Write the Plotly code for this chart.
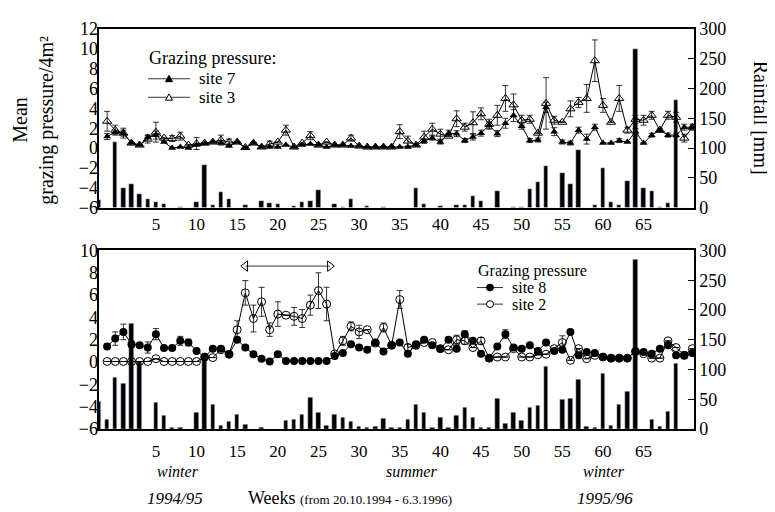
import plotly.graph_objects as go

# ---------------- data ----------------
# grazing weeks (73 points) and rainfall weeks (74 bars, one extra week at the start)
weeks = list(range(-1, 72))
rain_weeks = list(range(-2, 72))

site7 = [1.15, 1.6, 1.5, 0.5, 0.3, 1.1, 1.3, 0.6, 0.0, 0.1,
         0.0, 0.3, 0.45, 0.6, 0.5, 0.2, 0.6, 0.0, 0.5, 0.1,
         0.1, 0.1, 0.3, 0.1, 0.3, 0.4, 0.3, 0.1, 0.3, 0.3,
         0.2, 0.2, 0.1, 0.1, 0.1, 0.1, 0.1, 0.1, 0.3, 0.7,
         1.0, 0.6, 1.5, 1.45, 0.75, 1.1, 1.5, 2.3, 1.45, 2.5,
         3.27, 2.2, 0.75, 0.8, 4.1, 1.65, 0.6, 0.5, 1.8, 0.9,
         2.1, 0.5, 0.5, 0.75, 0.6, 1.65, 0.5, 1.3, 1.8, 1.3,
         1.3, 2.1, 2.1]
site3 = [2.7, 1.8, 1.5, 0.5, 0.3, 0.9, 1.6, 1.0, 0.95, 1.2,
         0.3, 0.45, 0.5, 0.6, 0.8, 0.6, 0.6, 0.05, 0.5, 0.1,
         0.4, 0.6, 1.8, 0.1, 0.5, 1.25, 0.3, 0.6, 0.3, 0.3,
         1.0, 0.2, 0.1, 0.1, 0.1, 0.1, 1.65, 0.7, 0.3, 1.1,
         1.9, 1.4, 1.2, 2.95, 2.1, 2.55, 3.45, 2.4, 3.3, 5.0,
         4.35, 2.8, 2.9, 1.5, 4.5, 2.8, 2.6, 3.95, 4.6, 5.0,
         8.8, 4.3, 2.6, 5.0, 1.8, 2.9, 2.8, 3.3, 1.8, 3.3,
         3.1, 1.0, 2.1]
site7_err = [0.3, 0.2, 0.5, 0, 0, 0.2, 0.4, 0, 0, 0,
             0, 0, 0, 0, 0, 0, 0, 0, 0, 0,
             0, 0, 0, 0, 0, 0, 0, 0, 0, 0,
             0, 0, 0, 0, 0, 0, 0, 0, 0, 0.2,
             0.2, 0.2, 0.3, 0.3, 0.2, 0.3, 0.3, 0.3, 0.3, 0.5,
             0.6, 0.3, 0.2, 0.2, 0.5, 0.4, 0.2, 0.2, 0.3, 0.5,
             0.3, 0, 0, 0.2, 0, 0.3, 0, 0.2, 0.2, 0.2,
             0.2, 0.3, 0.3]
site3_err = [1.0, 0.5, 0.3, 0, 0, 0.4, 1.0, 0, 0.3, 0.4,
             0, 0.6, 0, 0, 0.5, 0.3, 0, 0, 0, 0,
             0.3, 0, 0.5, 0, 0, 0.4, 0, 0, 0, 0,
             0.3, 0, 0, 0, 0, 0, 0.7, 0.5, 0, 0.6,
             0.6, 0.5, 0, 0.8, 0.4, 1.1, 0.6, 0.5, 1.0, 1.3,
             1.1, 0.5, 0.4, 0, 2.6, 0.4, 0, 0.8, 0.5, 1.4,
             2.1, 0.7, 0, 1.3, 0.3, 0.4, 0.5, 0.4, 0, 0.4,
             0.5, 0.4, 0]
rain_top = [13, 0, 110, 32, 40, 22, 15, 10, 6, 0,
            1, 0, 9, 72, 4, 26, 14, 0, 5, 0,
            11, 7, 6, 0, 2, 10, 11, 29, 0, 6,
            1, 14, 0, 2, 0, 1, 0, 0, 0, 33,
            6, 0, 3, 0, 4, 5, 19, 11, 0, 27,
            0, 1, 1, 31, 43, 70, 0, 58, 40, 97,
            0, 4, 67, 10, 5, 45, 267, 33, 28, 1,
            7, 181, 0, 0]

site8 = [1.4, 2.1, 2.7, 1.6, 1.5, 1.3, 2.5, 1.25, 1.25, 1.9,
         1.75, 1.0, 0.45, 1.2, 1.2, 0.7, 2.0, 1.3, 0.7, 0.3,
         0.05, 0.7, 0.1, 0.1, 0.1, 0.1, 0.1, 0.1, 0.55, 0.8,
         1.6, 1.3, 1.1, 1.75, 0.95, 1.5, 1.75, 0.75, 1.6, 2.0,
         1.5, 1.2, 2.0, 1.2, 2.5, 1.9, 0.75, 0.35, 1.4, 2.5,
         1.3, 1.2, 1.5, 1.0, 1.75, 1.0, 1.1, 2.7, 0.6, 0.9,
         0.8, 0.45, 0.35, 0.35, 0.35, 0.95, 0.9, 0.75, 1.2, 1.5,
         0.6, 0.6, 0.8]
site2 = [0.05, 0.05, 0.05, 0.05, 0.05, 0.05, 0.3, 0.05, 0.05, 0.05,
         0.05, 0.05, 0.45, 0.4, 1.1, 0.7, 2.9, 6.2, 3.9, 5.4,
         2.9, 4.3, 4.2, 4.1, 3.9, 5.1, 6.4, 5.2, 0.73, 1.9,
         3.2, 2.7, 2.9, 1.7, 3.1, 1.5, 5.6, 1.3, 1.5, 1.75,
         1.75, 1.2, 1.1, 2.0, 1.9, 1.3, 1.9, 0.35, 0.45, 0.45,
         1.2, 0.45, 0.45, 0.65, 0.7, 1.2, 1.75, 0.15, 1.2, 0.3,
         0.6, 0.45, 0.35, 0.35, 0.35, 0.95, 0.75, 0.35, 0.35, 1.9,
         1.3, 0.6, 1.2]
site8_err = [0.2, 0.6, 0.7, 0.3, 0.2, 0.5, 0.5, 0.2, 0.2, 0.4,
             0.3, 0, 0, 0, 0, 0, 0.2, 0, 0, 0,
             0, 0, 0, 0, 0, 0, 0, 0, 0, 0,
             0.2, 0, 0, 0, 0, 0, 0, 0, 0, 0.2,
             0, 0, 0.2, 0, 0.3, 0, 0, 0, 0.2, 0.4,
             0, 0, 0, 0, 0, 0, 0, 0, 0, 0,
             0, 0, 0, 0, 0, 0, 0, 0, 0, 0.2,
             0, 0, 0]
site2_err = [0, 0, 0, 0, 0, 0, 0, 0, 0, 0,
             0, 0, 0, 0, 0, 0, 0.8, 1.1, 1.2, 1.3,
             0.6, 1.1, 0, 0.8, 0.8, 0.9, 1.6, 1.5, 0, 0.4,
             0.4, 0.6, 0, 0, 0.4, 0, 0.8, 0.3, 0.3, 0,
             0, 0, 0, 0.4, 0.3, 0, 0.3, 0, 0, 0,
             0, 0, 0, 0, 0, 0, 0.6, 0, 0, 0,
             0, 0, 0, 0, 0, 0, 0, 0, 0, 0,
             0, 0.3, 0]
rain_bottom = [47, 16, 87, 76, 177, 113, 0, 44, 23, 2,
               3, 0, 27, 124, 41, 6, 12, 24, 8, 0,
               3, 0, 0, 15, 16, 24, 53, 28, 6, 24,
               20, 13, 4, 3, 4, 17, 3, 3, 16, 41,
               27, 3, 20, 3, 22, 36, 20, 3, 3, 52,
               9, 27, 15, 37, 40, 105, 0, 50, 51, 83,
               5, 2, 94, 6, 42, 63, 285, 0, 16, 5,
               30, 110, 0, 0]

tick_weeks = [5, 10, 15, 20, 25, 30, 35, 40, 45, 50, 55, 60, 65]
arrow_span = [16, 26.4]
arrow_level = [8.6, 8.6]

FONT = "Liberation Serif, Times New Roman, serif"
BLACK = "black"

# plot-area geometry (screen pixels of the 775x512 page; page body adds 8px offset)
PX0, PX1, PY0, PY1 = 99, 694, 19, 429


def px(sx):
    return (sx - PX0) / (PX1 - PX0)


def py(sy):
    return (PY1 - sy) / (PY1 - PY0)


fig = go.Figure()


def err(arr):
    return dict(type="data", array=arr, visible=True, color=BLACK, thickness=0.8, width=3)


# ---- top panel ----
fig.add_trace(go.Bar(x=rain_weeks, y=rain_top, marker_color=BLACK, width=0.55,
                     xaxis="x", yaxis="y", showlegend=False))
fig.add_trace(go.Scatter(x=weeks, y=site7, mode="lines+markers", name="site 7",
                         line=dict(color=BLACK, width=1),
                         marker=dict(symbol="triangle-up", size=7, color=BLACK),
                         error_y=err(site7_err), xaxis="x", yaxis="y2", showlegend=False))
fig.add_trace(go.Scatter(x=weeks, y=site3, mode="lines+markers", name="site 3",
                         line=dict(color=BLACK, width=1),
                         marker=dict(symbol="triangle-up-open", size=8, color=BLACK,
                                     line=dict(width=1)),
                         error_y=err(site3_err), xaxis="x", yaxis="y2", showlegend=False))

# ---- bottom panel ----
fig.add_trace(go.Bar(x=rain_weeks, y=rain_bottom, marker_color=BLACK, width=0.55,
                     xaxis="x2", yaxis="y3", showlegend=False))
fig.add_trace(go.Scatter(x=weeks, y=site8, mode="lines+markers", name="site 8",
                         line=dict(color=BLACK, width=1),
                         marker=dict(symbol="circle", size=8, color=BLACK),
                         error_y=err(site8_err), xaxis="x2", yaxis="y4", showlegend=False))
fig.add_trace(go.Scatter(x=weeks, y=site2, mode="lines+markers", name="site 2",
                         line=dict(color=BLACK, width=1),
                         marker=dict(symbol="circle-open", size=8, color=BLACK,
                                     line=dict(width=1)),
                         error_y=err(site2_err), xaxis="x2", yaxis="y4", showlegend=False))
fig.add_trace(go.Scatter(x=arrow_span, y=arrow_level, mode="lines+markers",
                         line=dict(color=BLACK, width=0.8),
                         marker=dict(symbol=["triangle-left-open", "triangle-right-open"],
                                     size=9, color=BLACK, line=dict(width=1)),
                         xaxis="x2", yaxis="y4", showlegend=False, hoverinfo="skip"))

ytickfont = dict(family=FONT, size=18, color=BLACK)
xtickfont = dict(family=FONT, size=17, color=BLACK)
xcommon = dict(range=[-2, 71.2], tickmode="array", tickvals=tick_weeks,
               ticktext=[str(t) for t in tick_weeks], showline=True, mirror=True,
               linecolor=BLACK, linewidth=1.5, ticks="", showgrid=False, zeroline=False,
               tickfont=xtickfont)
rain_common = dict(range=[0, 300], dtick=50, side="right", showline=True, mirror=True,
                   linecolor=BLACK, linewidth=1.5, ticks="inside", ticklen=6,
                   tickcolor=BLACK, showgrid=False, zeroline=False, tickfont=ytickfont)
graze_common = dict(side="left", dtick=2, showgrid=False, zeroline=False, ticks="",
                    showline=False, tickfont=ytickfont)

# page body has an 8px margin: shrink figure so the plot area lands where it should
fig.update_layout(
    width=767, height=504,
    margin=dict(l=PX0 - 8, r=775 - PX1, t=PY0 - 8, b=512 - PY1),
    paper_bgcolor="white", plot_bgcolor="white",
    font=dict(family=FONT, color=BLACK),
    bargap=0,
    xaxis=dict(domain=[0, 1], anchor="y", **xcommon),
    xaxis2=dict(domain=[0, 1], anchor="y3", ticklabelstandoff=6, **xcommon),
    yaxis=dict(domain=[py(202), 1], anchor="x", **rain_common),
    yaxis2=dict(overlaying="y", anchor="x", range=[-6, 12], **graze_common),
    yaxis3=dict(domain=[0, py(246)], anchor="x2", **rain_common),
    yaxis4=dict(overlaying="y3", anchor="x2", range=[-6, 10], **graze_common),
    showlegend=False,
)

ann = []
shapes = []


def add(text, sx, sy, size=16, angle=0, italic=False, anchor="center"):
    t = f"<i>{text}</i>" if italic else text
    ann.append(dict(text=t, x=px(sx), y=py(sy), xref="paper", yref="paper", showarrow=False,
                    textangle=angle, font=dict(family=FONT, size=size, color=BLACK),
                    xanchor=anchor, yanchor="middle", borderpad=0))


def legend_item(x0, x1, sy, marker, filled, label, size):
    shapes.append(dict(type="line", xref="paper", yref="paper", x0=px(x0), x1=px(x1),
                       y0=py(sy), y1=py(sy), line=dict(color=BLACK, width=0.8)))
    cx = (x0 + x1) / 2
    fill = BLACK if filled else "white"
    if marker == "triangle":
        path = (f"M {px(cx - 3.5)},{py(sy + 3)} L {px(cx + 3.5)},{py(sy + 3)} "
                f"L {px(cx)},{py(sy - 3.5)} Z")
        shapes.append(dict(type="path", xref="paper", yref="paper", path=path,
                           fillcolor=fill, line=dict(color=BLACK, width=1)))
    else:
        shapes.append(dict(type="circle", xref="paper", yref="paper",
                           x0=px(cx - 3.5), x1=px(cx + 3.5), y0=py(sy + 3.5), y1=py(sy - 3.5),
                           fillcolor=fill, line=dict(color=BLACK, width=1)))
    add(label, x1 + 8, sy, size=size, anchor="left")


# top legend
add("Grazing pressure:", 148, 49, size=18, anchor="left")
legend_item(148, 190, 70, "triangle", True, "site 7", 17)
legend_item(148, 190, 89, "triangle", False, "site 3", 17)
# bottom legend
add("Grazing pressure", 477, 267, size=16, anchor="left")
legend_item(477, 503, 284, "circle", True, "site 8", 16)
legend_item(477, 503, 301, "circle", False, "site 2", 16)

# axis titles and season labels
add("Mean", 20, 112, size=20, angle=-90)
add("grazing pressure/4m²", 47, 113, size=20, angle=-90)
add("Rainfall [mm]", 761, 110, size=20, angle=90)
add("winter", 178, 473, size=16, italic=True)
add("summer", 411, 473, size=16, italic=True)
add("winter", 604, 473, size=16, italic=True)
add("1994/95", 175, 500, size=17, italic=True)
add("1995/96", 605, 500, size=17, italic=True)
add("Weeks <span style='font-size:13px'>(from 20.10.1994 - 6.3.1996)</span>", 350, 500, size=18)
fig.update_layout(annotations=ann, shapes=shapes)

fig.write_html("out.html")
